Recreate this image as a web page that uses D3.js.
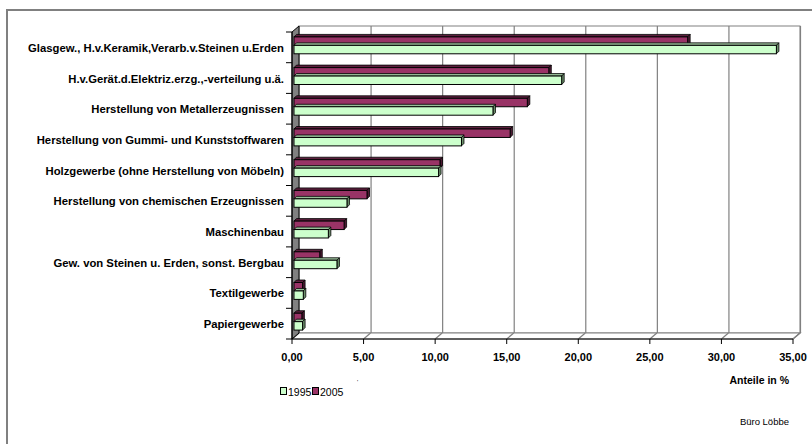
<!DOCTYPE html>
<html>
<head>
<meta charset="utf-8">
<script src="https://cdn.jsdelivr.net/npm/d3@7"></script>
<style>
  body { margin: 0; background: #fff; overflow: hidden; }
  svg  { display: block; font-family: "Liberation Sans", Arial, sans-serif; }
</style>
</head>
<body>
<svg id="chart" width="812" height="444"></svg>
<script>
// MARK: Data.

const categories = [
  'Glasgew., H.v.Keramik,Verarb.v.Steinen u.Erden',
  'H.v.Gerät.d.Elektriz.erzg.,-verteilung u.ä.',
  'Herstellung von Metallerzeugnissen',
  'Herstellung von Gummi- und Kunststoffwaren',
  'Holzgewerbe (ohne Herstellung von Möbeln)',
  'Herstellung von chemischen Erzeugnissen',
  'Maschinenbau',
  'Gew. von Steinen u. Erden, sonst. Bergbau',
  'Textilgewerbe',
  'Papiergewerbe',
]
const values1995 = [33.7, 18.7, 13.9, 11.7, 10.1, 3.7, 2.4, 3.0, 0.65, 0.6]
const values2005 = [27.5, 17.8, 16.3, 15.1, 10.2, 5.1, 3.5, 1.8, 0.6, 0.55]
const seriesNames = ['2005', '1995']          // drawn top to bottom inside each category
const legendNames = ['1995', '2005']
const xTicks = [0, 5, 10, 15, 20, 25, 30, 35]

// MARK: Some constants.

const DEPTH_X   = 7     // offset of the back wall
const DEPTH_Y   = -6
const BAR_DEPTH = 2.5   // 3d thickness of the bars
const BAR_SHIFT = 2     // bars sit a little behind the front plane

const colors = {
  '1995': { face: '#ccffcc', top: '#99bf99', side: '#6b8f6b' },
  '2005': { face: '#993366', top: '#5c1f3d', side: '#4d1a33' },
}

const svg = d3.select('#chart')

// outer frame (only left and top edges fall inside the picture)
svg.append('path')
  .attr('d', 'M7,444 L7,10 L812,10')
  .attr('fill', 'none')
  .attr('stroke', '#808080')
  .attr('stroke-width', 2)

const x = d3.scaleLinear().domain([0, 35]).range([292, 793])
const y = d3.scaleBand().domain(categories).range([32, 339])
  .paddingInner(0.45).paddingOuter(0.225)
const ySeries = d3.scaleBand().domain(seriesNames).range([0, y.bandwidth()])

// MARK: Walls and floor.

const x0 = x(0), x1 = x(35), yTop = 32, yBot = 339

// back wall
svg.append('rect')
  .attr('x', x0 + DEPTH_X).attr('y', yTop + DEPTH_Y)
  .attr('width', x1 - x0).attr('height', yBot - yTop)
  .attr('fill', '#fff')
  .attr('stroke', '#808080')
  .attr('stroke-width', 1)

// gridlines on the back wall
svg.append('g').selectAll('line')
  .data(xTicks.slice(1))
  .join('line')
  .attr('x1', (d) => x(d) + DEPTH_X + 0.5)
  .attr('x2', (d) => x(d) + DEPTH_X + 0.5)
  .attr('y1', yTop + DEPTH_Y)
  .attr('y2', yBot + DEPTH_Y)
  .attr('stroke', '#808080')
  .attr('stroke-width', 1.2)

// floor
svg.append('path')
  .attr('d', `M${x0},${yBot} L${x0 + DEPTH_X},${yBot + DEPTH_Y} L${x1 + DEPTH_X},${yBot + DEPTH_Y} L${x1},${yBot} Z`)
  .attr('fill', '#fff')
  .attr('stroke', '#808080')
  .attr('stroke-width', 1.2)
svg.append('g').selectAll('line')
  .data(xTicks)
  .join('line')
  .attr('x1', (d) => x(d))
  .attr('y1', yBot)
  .attr('x2', (d) => x(d) + DEPTH_X)
  .attr('y2', yBot + DEPTH_Y)
  .attr('stroke', '#808080')
  .attr('stroke-width', 1.2)

// side wall
svg.append('path')
  .attr('d', `M${x0},${yTop} L${x0 + DEPTH_X},${yTop + DEPTH_Y} L${x0 + DEPTH_X},${yBot + DEPTH_Y} L${x0},${yBot} Z`)
  .attr('fill', '#808080')
  .attr('stroke', '#000')
  .attr('stroke-width', 1)

// MARK: Bars.

const rows = categories.flatMap((c, i) => [
  { cat: c, series: '2005', value: values2005[i] },
  { cat: c, series: '1995', value: values1995[i] },
])

const bars = svg.append('g').selectAll('g')
  .data(rows)
  .join('g')
  .attr('transform', `translate(${BAR_SHIFT},${-BAR_SHIFT})`)

bars.each(function (d) {
  const g  = d3.select(this)
  const xa = x(0), xb = x(d.value)
  const ya = y(d.cat) + ySeries(d.series)
  const yb = ya + ySeries.bandwidth()
  const b  = BAR_DEPTH
  const c  = colors[d.series]
  g.append('path')
    .attr('d', `M${xa},${ya} L${xa + b},${ya - b} L${xb + b},${ya - b} L${xb},${ya} Z`)
    .attr('fill', c.top).attr('stroke', '#000').attr('stroke-width', 0.8)
  g.append('path')
    .attr('d', `M${xb},${ya} L${xb + b},${ya - b} L${xb + b},${yb - b} L${xb},${yb} Z`)
    .attr('fill', c.side).attr('stroke', '#000').attr('stroke-width', 0.8)
  g.append('rect')
    .attr('x', xa).attr('y', ya)
    .attr('width', xb - xa).attr('height', yb - ya)
    .attr('fill', c.face).attr('stroke', '#000').attr('stroke-width', 1)
})

// MARK: Axes.

const yAxis = svg.append('g')
yAxis.append('line')
  .attr('x1', x0).attr('x2', x0).attr('y1', yTop).attr('y2', yBot)
  .attr('stroke', '#000')
const catEdges = d3.range(categories.length + 1).map((i) => yTop + i * (yBot - yTop) / categories.length)
yAxis.selectAll('line.tick')
  .data(catEdges)
  .join('line')
  .attr('class', 'tick')
  .attr('x1', x0 - 6).attr('x2', x0)
  .attr('y1', (d) => d).attr('y2', (d) => d)
  .attr('stroke', '#000')
yAxis.selectAll('text')
  .data(categories)
  .join('text')
  .attr('x', 284)
  .attr('y', (d) => y(d) + y.bandwidth() / 2 + 0.5)
  .attr('text-anchor', 'end')
  .attr('dominant-baseline', 'central')
  .attr('font-size', 11.3)
  .attr('font-weight', 'bold')
  .text((d) => d)

const xAxis = svg.append('g')
xAxis.append('line')
  .attr('x1', x0).attr('x2', x1).attr('y1', yBot).attr('y2', yBot)
  .attr('stroke', '#000')
xAxis.selectAll('line.tick')
  .data(xTicks)
  .join('line')
  .attr('class', 'tick')
  .attr('x1', (d) => x(d)).attr('x2', (d) => x(d))
  .attr('y1', yBot).attr('y2', yBot + 5)
  .attr('stroke', '#000')
const fmt = (v) => d3.format('.2f')(v).replace('.', ',')
xAxis.selectAll('text')
  .data(xTicks)
  .join('text')
  .attr('x', (d) => x(d))
  .attr('y', 357)
  .attr('text-anchor', 'middle')
  .attr('dominant-baseline', 'central')
  .attr('font-size', 11)
  .attr('font-weight', 'bold')
  .text(fmt)

svg.append('text')
  .attr('x', 789).attr('y', 380)
  .attr('text-anchor', 'end')
  .attr('dominant-baseline', 'central')
  .attr('font-size', 10.5)
  .attr('font-weight', 'bold')
  .text('Anteile in %')

// MARK: Legend.

const legend = svg.append('g').attr('transform', 'translate(280,391)')
const item = legend.selectAll('g')
  .data(legendNames)
  .join('g')
  .attr('transform', (d, i) => `translate(${i * 32},0)`)
item.append('rect')
  .attr('x', 0.5).attr('y', -3.5)
  .attr('width', 6).attr('height', 7)
  .attr('fill', (d) => colors[d].face)
  .attr('stroke', '#000')
  .attr('stroke-width', 1)
item.append('text')
  .attr('x', 8)
  .attr('y', 0.5)
  .attr('dominant-baseline', 'central')
  .attr('font-size', 10.5)
  .text((d) => d)
svg.append('text')
  .attr('x', 357).attr('y', 384)
  .attr('font-size', 6)
  .text("'")

svg.append('text')
  .attr('x', 789).attr('y', 421)
  .attr('text-anchor', 'end')
  .attr('dominant-baseline', 'central')
  .attr('font-size', 9.5)
  .text('Büro Löbbe')
</script>
</body>
</html>
